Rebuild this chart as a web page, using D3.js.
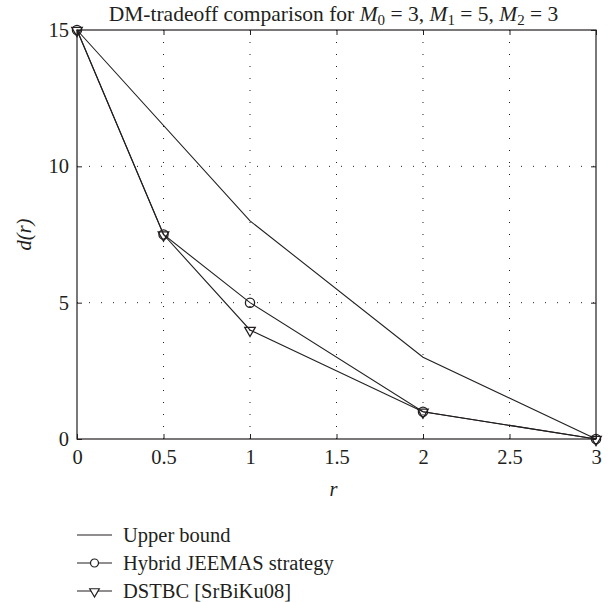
<!DOCTYPE html>
<html>
<head>
<meta charset="utf-8">
<script src="https://cdn.jsdelivr.net/npm/d3@7"></script>
<style>
  body { margin: 0; background: #fff; }
  svg text { font-family: "Liberation Serif", "Times New Roman", serif; fill: #231f20; }
</style>
</head>
<body>
<script>
// values
var rTicks = [0, 0.5, 1, 1.5, 2, 2.5, 3];
var dTicks = [0, 5, 10, 15];

var upperR = [0, 1, 2, 3];
var upperD = [15, 8, 3, 0];

var seriesR = [0, 0.5, 1, 2, 3];
var hybridD = [15, 7.5, 5, 1, 0];
var dstbcD = [15, 7.5, 4, 1, 0];

var legendNames = ["Upper bound", "Hybrid JEEMAS strategy", "DSTBC [SrBiKu08]"];

var w = 615, h = 602;
var margin = {top: 30, left: 77, right: 19, bottom: 163};
var ink = "#231f20";

var x = d3.scaleLinear().domain([0, 3]).range([margin.left, w - margin.right]);
var y = d3.scaleLinear().domain([0, 15]).range([h - margin.bottom, margin.top]);

var svg = d3.select("body").append("svg")
    .attr("width", w)
    .attr("height", h);

// dotted grid
svg.append("g").selectAll("line")
    .data(rTicks.slice(1, -1))
    .enter().append("line")
    .attr("x1", function(d) { return x(d); })
    .attr("x2", function(d) { return x(d); })
    .attr("y1", y(15)).attr("y2", y(0))
    .attr("stroke", ink).attr("stroke-width", 1)
    .attr("stroke-dasharray", "1,11");

svg.append("g").selectAll("line")
    .data(dTicks.slice(1, -1))
    .enter().append("line")
    .attr("x1", x(0)).attr("x2", x(3))
    .attr("y1", function(d) { return y(d); })
    .attr("y2", function(d) { return y(d); })
    .attr("stroke", ink).attr("stroke-width", 1)
    .attr("stroke-dasharray", "1,11");

// axes with inward ticks on every side
var fs = 20.5;
var xAxis = d3.axisBottom(x).tickValues(rTicks).tickSize(-5).tickPadding(10)
    .tickFormat(function(d) { return d; });
var yAxis = d3.axisLeft(y).tickValues(dTicks).tickSize(-5).tickPadding(8);

var gx = svg.append("g")
    .attr("transform", "translate(0," + y(0) + ")")
    .call(xAxis);
var gy = svg.append("g")
    .attr("transform", "translate(" + x(0) + ",0)")
    .call(yAxis);
svg.append("g")
    .attr("transform", "translate(0," + y(15) + ")")
    .call(d3.axisTop(x).tickValues(rTicks).tickSize(-5).tickFormat(""));
svg.append("g")
    .attr("transform", "translate(" + x(3) + ",0)")
    .call(d3.axisRight(y).tickValues(dTicks).tickSize(-5).tickFormat(""));

svg.selectAll(".domain").remove();
svg.selectAll(".tick line").attr("stroke", ink);
svg.selectAll(".tick text").attr("font-size", fs).attr("fill", ink);

// frame
svg.append("rect")
    .attr("x", x(0)).attr("y", y(15))
    .attr("width", x(3) - x(0)).attr("height", y(0) - y(15))
    .attr("fill", "none").attr("stroke", ink).attr("stroke-width", 1.2);

// lines
var line = d3.line()
    .x(function(d) { return x(d[0]); })
    .y(function(d) { return y(d[1]); });

svg.append("path")
    .datum(d3.zip(upperR, upperD))
    .attr("d", line)
    .attr("fill", "none").attr("stroke", ink).attr("stroke-width", 1.1);

svg.append("path")
    .datum(d3.zip(seriesR, hybridD))
    .attr("d", line)
    .attr("fill", "none").attr("stroke", ink).attr("stroke-width", 1.1);

svg.append("path")
    .datum(d3.zip(seriesR, dstbcD))
    .attr("d", line)
    .attr("fill", "none").attr("stroke", ink).attr("stroke-width", 1.1);

var tri = d3.symbol().type(d3.symbolTriangle).size(48);

svg.append("g").selectAll("circle")
    .data(d3.zip(seriesR, hybridD))
    .enter().append("circle")
    .attr("cx", function(d) { return x(d[0]); })
    .attr("cy", function(d) { return y(d[1]); })
    .attr("r", 4.6)
    .attr("fill", "none").attr("stroke", ink).attr("stroke-width", 1.3);

svg.append("g").selectAll("path")
    .data(d3.zip(seriesR, dstbcD))
    .enter().append("path")
    .attr("d", tri)
    .attr("transform", function(d) {
        return "translate(" + x(d[0]) + "," + (y(d[1]) + 0.5) + ") rotate(180)";
    })
    .attr("fill", "none").attr("stroke", ink).attr("stroke-width", 1.3);

// title
var title = svg.append("text")
    .attr("x", (x(0) + x(3)) / 2 - 3)
    .attr("y", 21)
    .attr("text-anchor", "middle")
    .attr("font-size", 21.5);
title.append("tspan").text("DM-tradeoff comparison for ");
[["0", "3, "], ["1", "5, "], ["2", "3"]].forEach(function(p) {
    title.append("tspan").attr("font-style", "italic").text("M");
    title.append("tspan").attr("font-size", 15).attr("dy", 4).text(p[0]);
    title.append("tspan").attr("dy", -4).text(" = " + p[1]);
});

// axis labels
svg.append("text")
    .attr("x", (x(0) + x(3)) / 2 - 3)
    .attr("y", 496)
    .attr("text-anchor", "middle")
    .attr("font-size", fs)
    .attr("font-style", "italic")
    .text("r");

svg.append("text")
    .attr("transform", "translate(31," + (y(7.5)) + ") rotate(-90)")
    .attr("text-anchor", "middle")
    .attr("font-size", fs)
    .attr("font-style", "italic")
    .text("d(r)");

// legend
var legend = svg.append("g");
var rows = legend.selectAll("g")
    .data(legendNames)
    .enter().append("g")
    .attr("transform", function(d, i) { return "translate(77," + (535 + i * 28) + ")"; });

rows.append("line")
    .attr("x1", 0).attr("x2", 35)
    .attr("stroke", ink).attr("stroke-width", 1.1);

rows.append("text")
    .attr("x", 46)
    .attr("dy", "0.33em")
    .attr("font-size", fs)
    .text(function(d) { return d; });

rows.filter(function(d, i) { return i === 1; })
    .append("circle")
    .attr("cx", 17.5).attr("r", 4)
    .attr("fill", "#fff").attr("stroke", ink).attr("stroke-width", 1.2);

rows.filter(function(d, i) { return i === 2; })
    .append("path")
    .attr("d", d3.symbol().type(d3.symbolTriangle).size(40))
    .attr("transform", "translate(17.5,0.5) rotate(180)")
    .attr("fill", "#fff").attr("stroke", ink).attr("stroke-width", 1.2);
</script>
</body>
</html>
